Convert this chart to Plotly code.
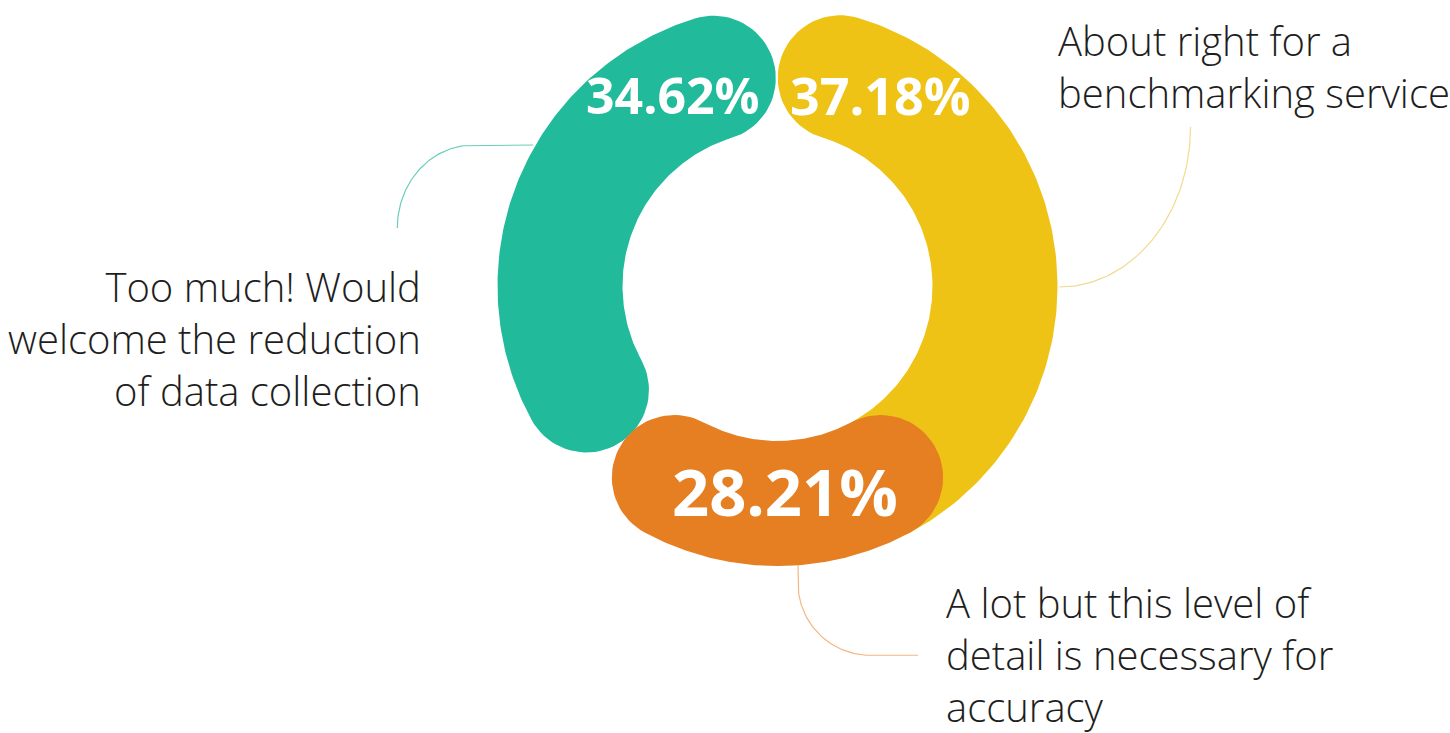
import numpy as np
import plotly.graph_objects as go

# ---------------- data ----------------
categories = [
    "About right for a benchmarking service",
    "A lot but this level of detail is necessary for accuracy",
    "Too much! Would welcome the reduction of data collection",
]
values = [37.18, 28.21, 34.62]            # clockwise from 12 o'clock
value_labels = ["37.18%", "28.21%", "34.62%"]
label_lines = [
    ["About right for a", "benchmarking service"],
    ["A lot but this level of", "detail is necessary for", "accuracy"],
    ["Too much! Would", "welcome the reduction", "of data collection"],
]

# ---------------- style ----------------
W, H = 1450, 733
CX, CY = 777.5, 286.0
R_OUT, R_IN = 280.0, 155.0
R_MID = (R_OUT + R_IN) / 2
HALF = (R_OUT - R_IN) / 2
CAP_DEG = np.degrees(HALF / R_MID)

COLORS = ["#EEC316", "#E67E22", "#21BA9A"]
LEADER_COLORS = ["#F1DA8E", "#F2B784", "#6CCDB7"]
TRIM = [(0.3, 34.0), (1.4, -10.6), (-10.4, -0.7)]   # visual start/end adjust (deg)
DRAW_ORDER = [0, 2, 1]
PCT_SIZES = [52, 65, 50]
LABEL_FONT = "Open Sans"
LABEL_SIZE = 40
TEXT_COLOR = "#1e1e1e"


def pt(theta_deg, r):
    t = np.radians(theta_deg)
    return CX + r * np.sin(t), CY - r * np.cos(t)


def stroke(ts, te, n=120):
    cs, ce = ts + CAP_DEG, te - CAP_DEG
    xs, ys = [], []
    th = np.linspace(cs, ce, n)
    x, y = pt(th, R_OUT); xs += list(x); ys += list(y)
    # end cap
    t = np.radians(ce)
    u = np.array([np.sin(t), -np.cos(t)]); tg = np.array([np.cos(t), np.sin(t)])
    c = np.array(pt(ce, R_MID))
    for p in np.linspace(0, np.pi, 40):
        q = c + HALF * (np.cos(p) * u + np.sin(p) * tg)
        xs.append(q[0]); ys.append(q[1])
    x, y = pt(th[::-1], R_IN); xs += list(x); ys += list(y)
    # start cap
    t = np.radians(cs)
    u = np.array([np.sin(t), -np.cos(t)]); tg = np.array([np.cos(t), np.sin(t)])
    c = np.array(pt(cs, R_MID))
    for p in np.linspace(0, np.pi, 40):
        q = c + HALF * (-np.cos(p) * u - np.sin(p) * tg)
        xs.append(q[0]); ys.append(q[1])
    xs.append(xs[0]); ys.append(ys[0])
    return xs, ys


total = sum(values)
cum = np.concatenate([[0], np.cumsum(values)]) * 360.0 / total
spans = []
for i in range(len(values)):
    a, b = cum[i], cum[i + 1]
    spans.append((a + TRIM[i][0], b + TRIM[i][1]))

fig = go.Figure()
for i in DRAW_ORDER:
    xs, ys = stroke(*spans[i])
    fig.add_trace(go.Scatter(x=xs, y=ys, mode="lines", fill="toself",
                             fillcolor=COLORS[i], line=dict(width=0, color=COLORS[i]),
                             hoverinfo="skip", showlegend=False, name=categories[i]))

# percentage labels
pct_angles = [spans[0][0] + 28.0, (spans[1][0] + spans[1][1]) / 2 - 2.2, spans[2][1] - 28.0]
pct_r = [R_MID, R_MID - 12, R_MID]
annotations = []
for i in range(3):
    x, y = pt(pct_angles[i], pct_r[i])
    annotations.append(dict(x=x, y=y, xref="x", yref="y", text="<b>%s</b>" % value_labels[i],
                            showarrow=False, xanchor="center", yanchor="middle",
                            font=dict(family="Open Sans", size=PCT_SIZES[i], color="white", weight=800)))

# leader lines
def leader_yellow():
    x0, y0 = pt(90.2, R_OUT + 2)
    cx, cy, rx, ry = x0, y0 - 160, 131, 160
    ph = np.linspace(0, np.pi / 2, 60)
    return list(cx + rx * np.sin(ph)), list(cy + ry * np.cos(ph))


def leader_orange():
    x0, y0 = pt(175.8, R_OUT)
    cx, cy, r = x0 + 72, y0 + 18, 72
    ph = np.linspace(0, np.pi / 2, 60)
    xs = [x0] + list(cx - r * np.cos(ph)) + [cx + 48]
    ys = [y0] + list(cy + r * np.sin(ph)) + [cy + r]
    return xs, ys


def leader_green():
    x0, y0 = pt(300, R_OUT + 2)
    cx, cy, rx, ry = x0 - 60, y0 + 83, 76, 83
    ph = np.linspace(0, np.pi / 2, 60)
    xs = [x0] + list(cx - rx * np.sin(ph))
    ys = [y0] + list(cy - ry * np.cos(ph))
    return xs, ys

for (xs, ys), col in zip([leader_yellow(), leader_orange(), leader_green()], LEADER_COLORS):
    fig.add_trace(go.Scatter(x=xs, y=ys, mode="lines", line=dict(color=col, width=1.2),
                             hoverinfo="skip", showlegend=False))

# category labels
label_pos = [
    dict(x=1056, y=66, xanchor="left", align="left"),
    dict(x=944, y=654, xanchor="left", align="left"),
    dict(x=423, y=338, xanchor="right", align="right"),
]
for i in range(3):
    p = label_pos[i]
    annotations.append(dict(x=p["x"], y=p["y"], xref="x", yref="y", text="<br>".join(label_lines[i]),
                            showarrow=False, xanchor=p["xanchor"], yanchor="middle", align=p["align"],
                            font=dict(family=LABEL_FONT, size=LABEL_SIZE, color=TEXT_COLOR, weight=300)))

fig.update_layout(
    width=W, height=H, margin=dict(l=0, r=0, t=0, b=0),
    paper_bgcolor="white", plot_bgcolor="white",
    xaxis=dict(range=[0, W], visible=False, fixedrange=True),
    yaxis=dict(range=[H, 0], visible=False, fixedrange=True),
    annotations=annotations,
)
fig.write_html(
    "out.html",
    config={"displayModeBar": False},
    post_script="document.body.style.margin='0';document.body.style.overflow='hidden';",
)
